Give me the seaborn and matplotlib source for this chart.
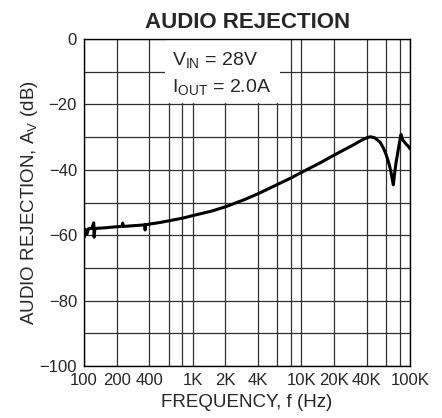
import matplotlib
matplotlib.use("Agg")
import matplotlib.pyplot as plt
import pandas as pd
import seaborn as sns
from matplotlib.patches import Rectangle
from matplotlib.ticker import FixedLocator, NullFormatter

# Values
freq_hz = [100, 101, 103, 106, 110, 118, 123, 124, 126, 130, 160, 200, 224, 227,
           231, 280, 340, 362, 365, 368, 400, 500, 600, 800, 1000, 1500, 2000,
           3000, 4000, 6000, 8000, 10000, 15000, 20000, 30000, 36000, 40000,
           43000, 47000, 53000, 57000, 60000, 63000, 66000, 68500, 70000, 72000,
           74000, 78000, 81000, 82500, 84000, 86000, 89000, 92000, 96000, 100000]
rejection_db = [-58.5, -60.5, -58.2, -59.8, -58.0, -57.9, -56.2, -60.6, -57.9,
                -57.9, -57.7, -57.4, -57.3, -56.3, -57.3, -57.1, -56.9, -56.8,
                -58.4, -56.8, -56.6, -56.1, -55.6, -54.8, -54.0, -52.6, -51.3,
                -49.1, -47.3, -44.5, -42.5, -40.8, -37.8, -35.5, -32.4, -30.9,
                -30.2, -29.9, -30.2, -31.6, -33.5, -35.3, -37.5, -40.0, -43.0,
                -44.6, -41.0, -38.0, -33.5, -30.5, -29.2, -30.3, -31.0, -31.6,
                -32.2, -32.8, -33.6]

x_ticks = [100, 200, 400, 1000, 2000, 4000, 10000, 20000, 40000, 100000]
x_tick_labels = ["100", "200", "400", "1K", "2K", "4K", "10K", "20K", "40K", "100K"]
x_minor = [600, 800, 6000, 8000, 60000, 80000]
y_ticks = [0, -20, -40, -60, -80, -100]
y_tick_labels = ["0", "\u221220", "\u221240", "\u221260", "\u221280", "\u2212100"]
y_minor = [-10, -30, -50, -70, -90]

sns.set_style("white")
plt.rcParams["font.family"] = ["Liberation Sans", "DejaVu Sans"]
plt.rcParams["mathtext.fontset"] = "custom"
plt.rcParams["mathtext.rm"] = "Liberation Sans"
plt.rcParams["mathtext.it"] = "Liberation Sans"

df = pd.DataFrame({"freq": freq_hz, "db": rejection_db})

fig = plt.figure(figsize=(4.42, 4.18), dpi=100)
ax = fig.add_axes([0.190, 0.124, 0.738, 0.783])

sns.lineplot(data=df, x="freq", y="db", color="black", lw=2.2,
             estimator=None, sort=False, ax=ax, zorder=3)

ax.set_xscale("log")
ax.set_xlim(100, 100000)
ax.set_ylim(-100, 0)
ax.set_xticks(x_ticks)
ax.set_xticklabels(x_tick_labels)
ax.xaxis.set_minor_locator(FixedLocator(x_minor))
ax.xaxis.set_minor_formatter(NullFormatter())
ax.set_yticks(y_ticks)
ax.set_yticklabels(y_tick_labels)
ax.yaxis.set_minor_locator(FixedLocator(y_minor))
ax.tick_params(which="both", length=0, labelsize=12, pad=5)

ax.set_axisbelow(True)
ax.grid(which="both", color="#303030", lw=0.9)
for s in ax.spines.values():
    s.set_color("black")
    s.set_linewidth(1.0)

# white box behind the conditions text
ax.add_patch(Rectangle((0.248, 0.804), 0.353, 0.2, transform=ax.transAxes,
                       facecolor="white", edgecolor="none", zorder=2))
ax.text(0.27, 0.92, r"V$_{\rm IN}$ = 28V", transform=ax.transAxes,
        fontsize=14, va="baseline", zorder=4)
ax.text(0.27, 0.838, r"I$_{\rm OUT}$ = 2.0A", transform=ax.transAxes,
        fontsize=14, va="baseline", zorder=4)

ax.set_title("AUDIO REJECTION", fontsize=16, fontweight="bold", pad=8)
ax.set_xlabel("FREQUENCY, f (Hz)", fontsize=13.5, labelpad=4)
ax.set_ylabel(r"AUDIO REJECTION, A$_{\rm V}$ (dB)", fontsize=13.5, labelpad=0)

fig.savefig("out.png", dpi=100)
